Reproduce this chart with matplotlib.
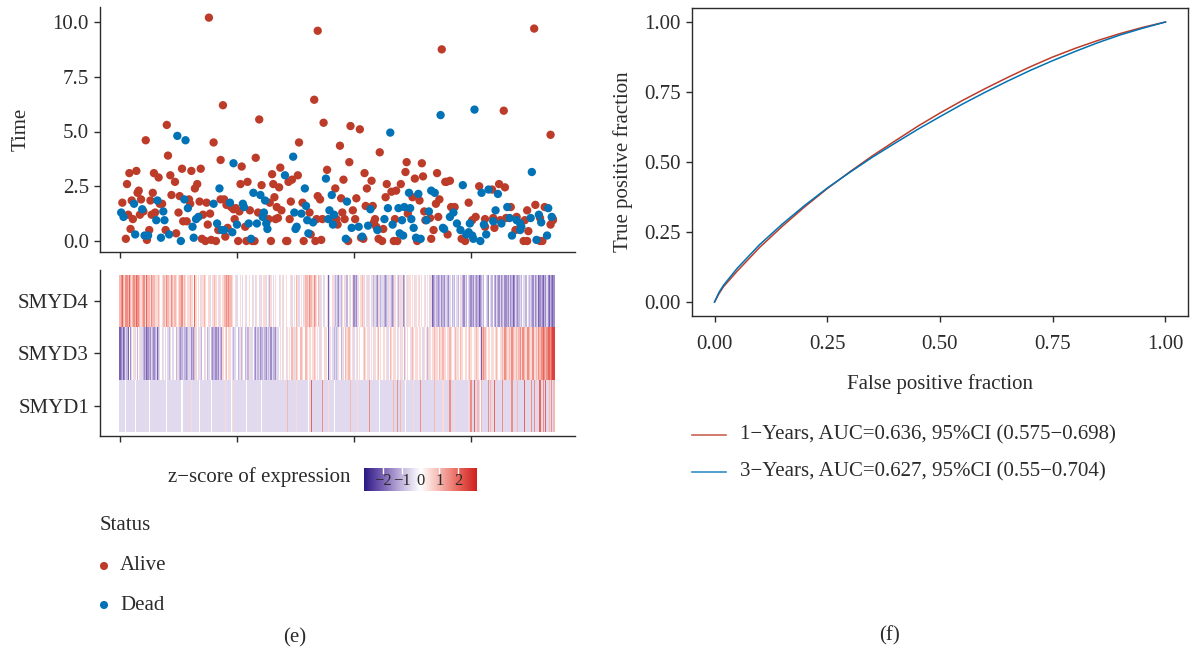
import numpy as np
import matplotlib
matplotlib.use("Agg")
import matplotlib.pyplot as plt
from matplotlib.colors import LinearSegmentedColormap

plt.rcParams['font.family'] = ['Liberation Serif', 'DejaVu Serif']
plt.rcParams['axes.unicode_minus'] = True

# ---------------- data ----------------
# risk plot: (patient rank, survival time in years)
alive = [(76, 10.2), (88, 6.2), (40, 5.3), (22, 4.6), (80, 4.5), (41, 3.9), (86, 3.7), (8, 3.1), (14, 3.2),
         (29, 3.1), (33, 2.9), (43, 3.0), (53, 3.3), (61, 3.2), (69, 3.3), (47, 2.7), (66, 2.6), (64, 2.4),
         (6, 2.6), (15, 2.2), (16, 2.3), (28, 2.2), (44, 2.1), (2, 1.75), (10, 1.85), (18, 1.9), (26, 1.85),
         (34, 1.7), (36, 1.7), (51, 2.05), (59, 1.9), (60, 1.7), (68, 1.8), (74, 1.75), (86, 1.9), (20, 1.35),
         (7, 1.2), (11, 1.0), (17, 1.2), (27, 1.2), (30, 1.3), (50, 1.3), (54, 0.9), (57, 0.9), (71, 1.2),
         (77, 1.25), (75, 0.75), (84, 0.5), (9, 0.55), (25, 0.5), (39, 0.5), (48, 0.35), (5, 0.1), (23, 0.05),
         (70, 0.1), (73, 0.0), (78, 0.05), (82, 0.0),
         (169, 9.6), (166, 6.45), (174, 5.4), (119, 5.55), (153, 4.5), (104, 3.4), (116, 3.8), (137, 3.35),
         (130, 3.05), (152, 3.0), (177, 3.25), (144, 2.7), (147, 2.8), (103, 2.6), (109, 2.7), (121, 2.55),
         (131, 2.6), (136, 2.45), (169, 2.05), (171, 1.9), (89, 1.9), (91, 1.65), (95, 1.55), (99, 1.5),
         (97, 1.45), (102, 1.35), (111, 1.4), (118, 1.3), (128, 1.75), (132, 2.0), (134, 1.55), (138, 1.4),
         (135, 1.05), (146, 1.8), (162, 1.3), (156, 1.75), (168, 1.0), (173, 1.0), (182, 1.0), (145, 1.0),
         (127, 1.0), (133, 1.0), (107, 0.65), (92, 0.6), (98, 1.0), (90, 0.2), (101, 0.0), (108, 0.0),
         (113, 0.0), (115, 0.0), (129, 0.0), (142, 0.0), (143, 0.0), (157, 0.0), (163, 0.3), (167, 0.0),
         (172, 0.05),
         (275, 8.75), (197, 5.25), (205, 5.1), (188, 4.35), (222, 4.05), (196, 3.6), (245, 3.6), (258, 3.55),
         (209, 3.1), (215, 2.75), (191, 2.8), (244, 3.15), (252, 2.85), (259, 2.95), (271, 3.1), (278, 2.7),
         (228, 2.6), (240, 2.6), (211, 2.4), (184, 2.4), (232, 2.25), (236, 2.3), (189, 1.95), (202, 1.95),
         (227, 2.0), (250, 2.0), (256, 1.85), (270, 1.7), (273, 1.9), (210, 1.6), (216, 1.6), (199, 1.4),
         (190, 1.3), (246, 1.25), (260, 1.35), (192, 1.0), (201, 1.0), (218, 1.0), (235, 1.0), (272, 1.1),
         (186, 0.75), (217, 0.85), (219, 0.65), (225, 0.55), (268, 0.5), (261, 0.95), (265, 1.05), (195, 0.0),
         (206, 0.15), (208, 0.1), (221, 0.1), (224, 0.0), (234, 0.0), (237, 0.0), (254, 0.0), (266, 0.1),
         (185, 1.0),
         (354, 9.7), (328, 5.95), (368, 4.85), (279, 2.7), (282, 2.75), (307, 2.5), (324, 2.6), (329, 2.45),
         (318, 2.35), (298, 1.75), (283, 1.55), (286, 1.55), (334, 1.55), (348, 1.4), (355, 1.65), (363, 1.55),
         (304, 1.1), (301, 0.95), (312, 1.0), (319, 1.05), (325, 0.95), (330, 1.05), (339, 1.1), (346, 0.95),
         (359, 1.05), (370, 0.95), (280, 0.3), (292, 0.1), (295, 0.0), (312, 0.65), (320, 0.6), (338, 0.5),
         (349, 0.45), (345, 0.0), (348, 0.0), (359, 0.0), (361, 0.0), (368, 0.75), (370, 1.0)]

dead = [(49, 4.8), (56, 4.6), (85, 2.4), (12, 1.7), (32, 1.85), (55, 1.9), (80, 1.7), (58, 1.5), (1, 1.3),
        (3, 1.1), (19, 1.45), (37, 1.35), (31, 0.95), (38, 0.95), (65, 1.0), (67, 1.1), (62, 0.65), (83, 0.8),
        (87, 0.5), (13, 0.3), (21, 0.25), (24, 0.25), (35, 0.15), (42, 0.3), (52, 0.0), (63, 0.15),
        (148, 3.85), (97, 3.55), (141, 3.0), (176, 2.85), (158, 2.4), (181, 2.1), (114, 2.2), (120, 2.1),
        (124, 1.85), (94, 1.75), (105, 1.7), (106, 1.55), (123, 1.3), (122, 1.1), (125, 0.8), (126, 0.55),
        (149, 1.3), (155, 1.25), (159, 1.6), (179, 1.4), (160, 0.95), (165, 0.85), (178, 1.0), (151, 0.65),
        (150, 0.55), (117, 0.8), (110, 0.8), (100, 0.75), (96, 0.4), (89, 0.5), (112, 0.1), (161, 0.35),
        (274, 5.75), (231, 4.95), (247, 2.2), (255, 2.15), (266, 2.3), (269, 2.2), (194, 1.8), (214, 1.45),
        (229, 1.5), (238, 1.5), (243, 1.55), (248, 1.5), (183, 1.2), (264, 1.35), (226, 1.0), (241, 0.95),
        (249, 1.0), (262, 0.95), (182, 0.75), (198, 0.6), (204, 0.65), (212, 0.7), (233, 0.75), (220, 0.5),
        (239, 0.35), (251, 0.6), (276, 0.6), (193, 0.1), (207, 0.2), (242, 0.25), (253, 0.15), (257, 0.1),
        (303, 6.0), (352, 3.15), (293, 2.55), (309, 2.2), (315, 2.35), (323, 2.15), (285, 1.3), (321, 1.4),
        (331, 1.55), (366, 1.5), (282, 1.1), (288, 0.8), (299, 0.8), (311, 0.75), (319, 0.9), (326, 0.8),
        (333, 1.05), (339, 0.95), (342, 0.8), (351, 1.05), (358, 1.2), (360, 0.85), (369, 1.1), (277, 0.55),
        (291, 0.5), (298, 0.4), (301, 0.25), (342, 0.5), (343, 0.65), (365, 0.25), (335, 0.25), (313, 0.3),
        (308, 0.0), (356, 0.05), (296, 0.3), (302, 0.1)]

# heatmap z-scores, one letter per patient: a=-2.5 ... f=0 ... l=3
genes = ['SMYD1', 'SMYD3', 'SMYD4']
smyd4 = ("hijhgiihjh ghihjiihgh iigjhhgihhg "
         "gghgfghhgi hggihghgfg hhighgfgghg "
         "gfjgfgfegg hgffgefggh gfgegfghhih "
         "ihhgffgeff gfefgeffgf egfegfegefg "
         "gefgdgfefg ffegfgefgf ffgefgfhgef "
         "gfeghhgihh gihgfhegfe efgbeffgede "
         "dcedgfegdf gefgcdcegf ghgefgegfeg "
         "dedcegdeed cdegedcdgf edgegcdfgeg "
         "gfgfegfgef gfgefgfegb cdedcdecdce "
         "edcefdedfe dfegdcedfe dcdcedcdbcd "
         "edfedcfedf dcedcecdec cdcecdbcedc "
         "dedfeedfed edcecdebcd cbdcecbdcbc")
smyd3 = ("bcdbcedbfc efgefdfgee dcdbcdcedcd "
         "ebdefegfef edgfeefdge dcdeddcdeec "
         "dchefegedf egfdefdcdd cdcedcgfghf "
         "ggfedeefde gdefdeddge efdcedecdde "
         "dcedeceddc eefgfegfeg fgfhgeghgfh "
         "hgffhgfggf ghgfgfegff ggfbegfeded "
         "egfdgefhgh hgfgefgefg ffghgfgefgf "
         "egfghfgfgg fgefhgfggf egfegfdgfgf "
         "gehgfggfgg fegfgdegfg ghggfhgghgg "
         "fgghgffghg gfhggfggfg hgffgghgfgb "
         "hihgfggfgg fghgfgghgi hgghgihgghg "
         "higiihgiih ggigghgihi ijihijjijkk")
smyd1 = ("eeeeefeeee eeefeeeeee eeeeefeeeee "
         "eeeeeeeeef eeeeeeeeee eefeeeeeeeg "
         "eeeeeefeee eeeeeefeee eeeeeeeegee "
         "eefgeeeeee eeeeefeeee eeeeeeeefee "
         "eeeeeeeeee eeeeeeeeeh eeeeeeegeee "
         "eeeeeefeej eeeeeeeeie eeegeeeefee "
         "eeeeeeeeee eheeeeegee eeeeeeeieee "
         "eeeeefeeee eeeeeeehee ieeheeefeee "
         "eeegeeeeei eeeeeeeeee eheeeeeegee "
         "eeeieeegee eeeeeeeeeg eieejeehefh "
         "eeeeeieheg jeeeeeeiee eeeeeieeeeh "
         "eeeeejeeee eieieeeeje eiejeeheieh")
zcode = {c: -2.5 + 0.5 * i for i, c in enumerate('abcdefghijkl')}

# ROC curves
fpr = [0, 0.01, 0.02, 0.05, 0.1, 0.15, 0.2, 0.25, 0.3, 0.35, 0.4, 0.45, 0.5, 0.55, 0.6, 0.65, 0.7, 0.75,
       0.8, 0.85, 0.9, 0.95, 1.0]
tpr_1y = [0, 0.03, 0.055, 0.11, 0.195, 0.27, 0.34, 0.405, 0.465, 0.522, 0.575, 0.627, 0.675, 0.72, 0.762,
          0.802, 0.84, 0.875, 0.906, 0.934, 0.959, 0.981, 1.0]
tpr_3y = [0, 0.035, 0.06, 0.12, 0.205, 0.278, 0.345, 0.407, 0.463, 0.517, 0.567, 0.616, 0.662, 0.707, 0.749,
          0.789, 0.827, 0.862, 0.895, 0.926, 0.954, 0.978, 1.0]
roc_labels = ['1\u2212Years, AUC=0.636, 95%CI (0.575\u22120.698)',
              '3\u2212Years, AUC=0.627, 95%CI (0.55\u22120.704)']

RED = '#BC3C29'
BLUE = '#0072B5'
DARK = '#2b2b2b'
FS = 15

rows = []
for s in (smyd1, smyd3, smyd4):
    s = s.replace(' ', '')
    rows.append([zcode[c] for c in s])
lens = [len(r) for r in rows]
assert len(set(lens)) == 1, lens
Z = np.array(rows)
n = Z.shape[1]

cmap = LinearSegmentedColormap.from_list(
    'pw', [(0, '#2c1a84'), (1 / 6, '#7a62b4'), (2 / 6, '#c3b6de'), (0.5, '#ffffff'),
           (4 / 6, '#f6b8b0'), (5 / 6, '#e8665c'), (1.0, '#cf1f1f')])

W, H = 1190, 654
fig = plt.figure(figsize=(W / 100, H / 100), dpi=100)


def box(l, t, r, b):
    return [l / W, 1 - b / H, (r - l) / W, (b - t) / H]


def style(ax):
    for sp in ax.spines.values():
        sp.set_color(DARK)
        sp.set_linewidth(1.0)
    ax.tick_params(direction='out', length=4, width=1, color=DARK, labelcolor=DARK,
                   labelsize=FS, pad=4)


px_per = 1.17
xl = ((100 - 120) / px_per, (575 - 120) / px_per)

# ---- scatter ----
ax1 = fig.add_axes(box(100, 7, 575, 252))
ax1.scatter(*zip(*alive), s=36, color=RED, edgecolors='none', zorder=3)
ax1.scatter(*zip(*dead), s=36, color=BLUE, edgecolors='none', zorder=3)
ax1.set_xlim(xl)
ax1.set_ylim((241 - 252) / 21.9, (241 - 7) / 21.9)
ax1.set_yticks([0, 2.5, 5, 7.5, 10])
ax1.set_yticklabels(['0.0', '2.5', '5.0', '7.5', '10.0'])
ax1.set_xticks([0, 100, 200, 300])
ax1.set_xticklabels([])
ax1.spines['top'].set_visible(False)
ax1.spines['right'].set_visible(False)
style(ax1)
ax1.set_ylabel('Time', fontsize=FS, color=DARK, labelpad=16)

# ---- heatmap ----
ax2 = fig.add_axes(box(100, 270, 575, 436))
ax2.pcolormesh(np.arange(n + 1) - 0.5, np.arange(4) - 0.5, Z, cmap=cmap, vmin=-3, vmax=3)
ax2.set_xlim(xl)
ax2.set_ylim(-0.5 - 4 / 52.5, 2.5 + 5 / 52.5)
ax2.set_yticks([0, 1, 2])
ax2.set_yticklabels(genes)
ax2.set_xticks([0, 100, 200, 300])
ax2.set_xticklabels([])
ax2.spines['top'].set_visible(False)
ax2.spines['right'].set_visible(False)
style(ax2)

# ---- colour bar ----
cax = fig.add_axes(box(364, 468, 477, 491))
cax.imshow(np.linspace(-3, 3, 256)[None, :], cmap=cmap, aspect='auto', extent=(-3, 3, 0, 1))
for v in [-2, -1, 0, 1, 2]:
    cax.plot([v, v], [1, 0.8], color='white', lw=1)
    cax.text(v, 0.42, str(v).replace('-', '\u2212'), ha='center', va='center', fontsize=12, color=DARK)
cax.set_xlim(-3, 3)
cax.set_ylim(0, 1)
cax.axis('off')

# ---- ROC ----
ax3 = fig.add_axes(box(692, 8, 1188, 316))
ax3.plot(fpr, tpr_1y, color=RED, lw=1.1)
ax3.plot(fpr, tpr_3y, color=BLUE, lw=1.1)
ax3.set_xlim(-0.05, 1.05)
ax3.set_ylim(-0.05, 1.05)
ticks = [0, 0.25, 0.5, 0.75, 1.0]
ax3.set_xticks(ticks)
ax3.set_yticks(ticks)
ax3.set_xticklabels(['%.2f' % t for t in ticks])
ax3.set_yticklabels(['%.2f' % t for t in ticks])
style(ax3)
ax3.tick_params(axis='x', pad=10)
ax3.set_xlabel('False positive fraction', fontsize=FS, color=DARK, labelpad=14)
ax3.set_ylabel('True positive fraction', fontsize=FS, color=DARK, labelpad=8)

# ---- overlay for legends and panel letters ----
ov = fig.add_axes([0, 0, 1, 1], zorder=-1)
ov.set_xlim(0, W)
ov.set_ylim(H, 0)
ov.axis('off')

ov.text(350, 477, 'z\u2212score of expression', ha='right', va='center', fontsize=FS, color=DARK)
ov.text(100, 525, 'Status', ha='left', va='center', fontsize=FS, color=DARK)
for yy, lab, col in [(566, 'Alive', RED), (605, 'Dead', BLUE)]:
    ov.scatter([104], [yy], s=34, color=col, edgecolors='none')
    ov.text(120, yy, lab, ha='left', va='center', fontsize=FS, color=DARK)
ov.text(295, 638, '(e)', ha='center', va='center', fontsize=FS, color=DARK)
ov.text(890, 636, '(f)', ha='center', va='center', fontsize=FS, color=DARK)

for yy, lab, col in [(435, roc_labels[0], RED), (472, roc_labels[1], BLUE)]:
    ov.plot([692, 726], [yy, yy], color=col, lw=1.2, alpha=0.8)
    ov.text(740, yy, lab, ha='left', va='center', fontsize=FS, color=DARK)

fig.savefig('out.png', dpi=100)
